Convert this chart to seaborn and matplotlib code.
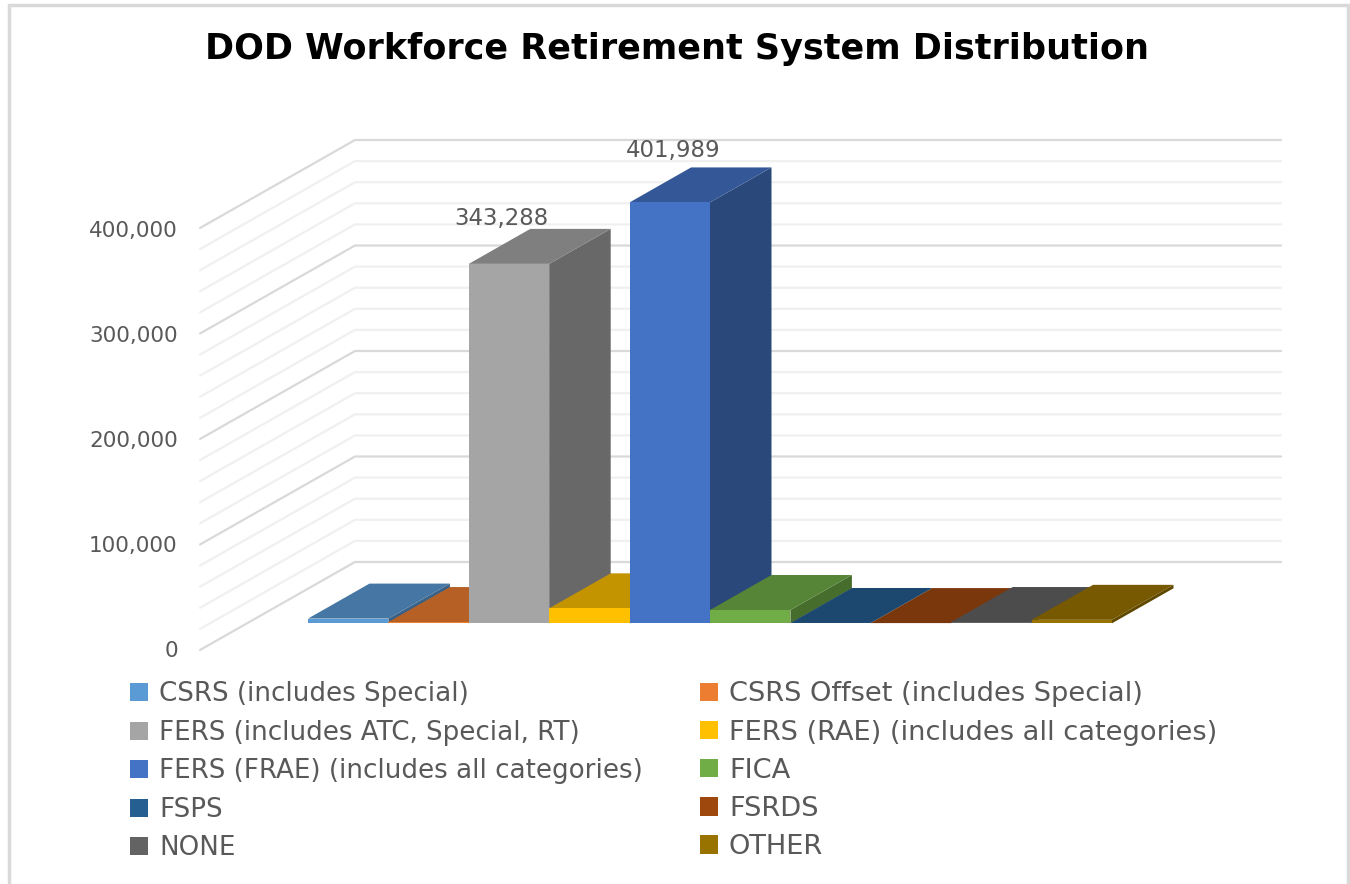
import numpy as np
import pandas as pd
import seaborn as sns
import matplotlib.pyplot as plt
from matplotlib.colors import to_rgb
from matplotlib.patches import Patch, Polygon

systems = ["CSRS (includes Special)", "CSRS Offset (includes Special)",
           "FERS (includes ATC, Special, RT)", "FERS (RAE) (includes all categories)",
           "FERS (FRAE) (includes all categories)", "FICA", "FSPS", "FSRDS", "NONE", "OTHER"]
employees = [4500, 1200, 343288, 14300, 401989, 12700, 300, 200, 1200, 3300]
colors = ["#5B9BD5", "#ED7D31", "#A5A5A5", "#FFC000", "#4472C4",
          "#70AD47", "#255E91", "#9E480E", "#636363", "#997300"]
labelled = ["FERS (includes ATC, Special, RT)", "FERS (FRAE) (includes all categories)"]
ticks = [0, 100000, 200000, 300000, 400000]

W, H = 1350, 884
TEXT = "#595959"

sns.set_theme(style="white")
plt.rcParams["font.family"] = ["DejaVu Sans"]

fig = plt.figure(figsize=(W / 100, H / 100), dpi=100)

# walls in plain pixel coordinates
bg = fig.add_axes([0, 0, 1, 1], zorder=0)
bg.set_xlim(0, W)
bg.set_ylim(H, 0)
bg.axis("off")
for v in range(0, 400001, 20000):
    y_back = 562 - v * 422 / 400000
    major = v % 100000 == 0
    bg.plot([200, 355, 1281], [y_back + 88, y_back, y_back],
            color="#D9D9D9" if major else "#F0F0F0", lw=1.6, solid_joinstyle="miter")
# chart frame, open at the bottom
bg.plot([9, 9, 1348, 1348], [H, 5, 5, H], color="#D9D9D9", lw=2.5, solid_joinstyle="miter")

# bars: one category is 80.4 px, 100,000 is 104.7 px, zero sits at y=623
ax = fig.add_axes([0, 0, 1, 1], zorder=2)
ax.patch.set_alpha(0)
df = pd.DataFrame({"system": systems, "employees": employees})
sns.barplot(data=df, x="system", y="employees", hue="system", palette=colors, hue_order=systems,
            width=1.0, saturation=1, dodge=False, legend=False, linewidth=0, ax=ax, zorder=3)
px_x = 80.4
px_y = 104.7 / 100000
ax.set_xlim((0 - 348.2) / px_x, (W - 348.2) / px_x)
ax.set_ylim(-(H - 623.3) / px_y, 623.3 / px_y)
ax.axis("off")

# depth faces come from the bars seaborn just drew
dx = 61.5 / px_x
dy = 35 / px_y
def shade(c, f):
    return tuple(np.array(to_rgb(c)) * f)

for bar, c in zip(ax.patches, colors):
    x0 = bar.get_x()
    x1 = x0 + bar.get_width()
    h = bar.get_height()
    top = [(x0, h), (x1, h), (x1 + dx, h + dy), (x0 + dx, h + dy)]
    side = [(x1, 0), (x1 + dx, dy), (x1 + dx, h + dy), (x1, h)]
    ax.add_patch(Polygon(side, closed=True, fc=shade(c, 0.63), ec="none", zorder=2))
    ax.add_patch(Polygon(top, closed=True, fc=shade(c, 0.77), ec="none", zorder=2))

label_shift = {"FERS (includes ATC, Special, RT)": (-8, 45), "FERS (FRAE) (includes all categories)": (3, 52)}
for name in labelled:
    i = systems.index(name)
    ax.annotate(f"{employees[i]:,}", (i, employees[i]), xytext=label_shift[name],
                textcoords="offset pixels", ha="center", va="center", fontsize=16.5, color=TEXT, zorder=5)

# value axis sits on the front edge of the floor
ya = fig.add_axes([200 / W, 1 - 649 / H, 0.001, 420 / H], zorder=1)
ya.patch.set_alpha(0)
ya.set_ylim(0, 400000)
ya.set_xticks([])
ya.set_yticks(ticks)
ya.set_yticklabels([f"{t:,}" for t in ticks], fontsize=15.5, color=TEXT)
ya.tick_params(axis="y", length=0, pad=16)
sns.despine(ax=ya, left=True, bottom=True)

fig.text(677 / W, 1 - 49 / H, "DOD Workforce Retirement System Distribution",
         ha="center", va="center", fontsize=25.2, fontweight="bold", color="black")

# two legends, the right column is a touch wider in the original
handles = [Patch(fc=c, ec="none", label=s) for s, c in zip(systems, colors)]
fig.legend(handles=handles[0::2], loc="upper left", bbox_to_anchor=(125 / W, 1 - 676 / H),
           frameon=False, fontsize=18.8, labelcolor=TEXT, handlelength=0.69, handleheight=0.69,
           handletextpad=0.43, labelspacing=0.48, borderpad=0.2, borderaxespad=0)
fig.legend(handles=handles[1::2], loc="upper left", bbox_to_anchor=(694.6 / W, 1 - 676 / H),
           frameon=False, fontsize=19.6, labelcolor=TEXT, handlelength=0.66, handleheight=0.66,
           handletextpad=0.40, labelspacing=0.447, borderpad=0.2, borderaxespad=0)

fig.savefig("out.png", dpi=100, facecolor="white")
